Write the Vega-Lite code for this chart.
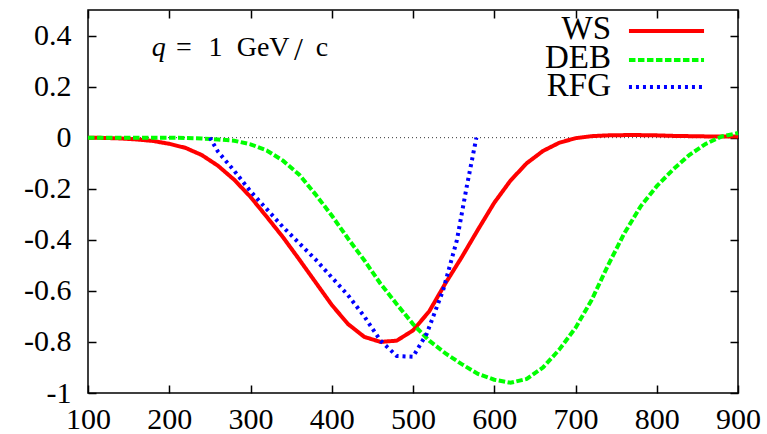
{
  "$schema": "https://vega.github.io/schema/vega-lite/v6.json",
  "width": 650,
  "height": 383,
  "autosize": "none",
  "padding": {"left": 88, "top": 10, "right": 29, "bottom": 41},
  "background": "white",
  "config": {
    "view": {"stroke": "black", "strokeWidth": 1.5},
    "font": "Liberation Serif",
    "axis": {"domain": false, "grid": false, "ticks": true, "labelFont": "Liberation Serif", "labelFontSize": 30, "labelColor": "black", "tickColor": "#000000", "tickWidth": 1.5, "tickSize": 8, "offset": -8, "zindex": 1, "labelFlush": false, "labelOverlap": false}
  },
  "datasets": {
    "curves": [
      {"x": 100, "y": 0, "series": "WS"},
      {"x": 120, "y": -0.001, "series": "WS"},
      {"x": 140, "y": -0.003, "series": "WS"},
      {"x": 160, "y": -0.007, "series": "WS"},
      {"x": 180, "y": -0.013, "series": "WS"},
      {"x": 200, "y": -0.024, "series": "WS"},
      {"x": 220, "y": -0.04, "series": "WS"},
      {"x": 240, "y": -0.068, "series": "WS"},
      {"x": 260, "y": -0.11, "series": "WS"},
      {"x": 280, "y": -0.165, "series": "WS"},
      {"x": 300, "y": -0.232, "series": "WS"},
      {"x": 320, "y": -0.31, "series": "WS"},
      {"x": 340, "y": -0.39, "series": "WS"},
      {"x": 360, "y": -0.477, "series": "WS"},
      {"x": 380, "y": -0.566, "series": "WS"},
      {"x": 400, "y": -0.655, "series": "WS"},
      {"x": 420, "y": -0.73, "series": "WS"},
      {"x": 440, "y": -0.78, "series": "WS"},
      {"x": 460, "y": -0.8, "series": "WS"},
      {"x": 480, "y": -0.795, "series": "WS"},
      {"x": 500, "y": -0.755, "series": "WS"},
      {"x": 520, "y": -0.68, "series": "WS"},
      {"x": 540, "y": -0.57, "series": "WS"},
      {"x": 560, "y": -0.468, "series": "WS"},
      {"x": 580, "y": -0.36, "series": "WS"},
      {"x": 600, "y": -0.255, "series": "WS"},
      {"x": 620, "y": -0.168, "series": "WS"},
      {"x": 640, "y": -0.1, "series": "WS"},
      {"x": 660, "y": -0.052, "series": "WS"},
      {"x": 680, "y": -0.02, "series": "WS"},
      {"x": 700, "y": -0.002, "series": "WS"},
      {"x": 720, "y": 0.006, "series": "WS"},
      {"x": 740, "y": 0.009, "series": "WS"},
      {"x": 760, "y": 0.01, "series": "WS"},
      {"x": 780, "y": 0.01, "series": "WS"},
      {"x": 800, "y": 0.009, "series": "WS"},
      {"x": 820, "y": 0.007, "series": "WS"},
      {"x": 840, "y": 0.006, "series": "WS"},
      {"x": 860, "y": 0.005, "series": "WS"},
      {"x": 880, "y": 0.005, "series": "WS"},
      {"x": 900, "y": 0.005, "series": "WS"},
      {"x": 100, "y": 0, "series": "DEB"},
      {"x": 150, "y": 0, "series": "DEB"},
      {"x": 200, "y": 0, "series": "DEB"},
      {"x": 220, "y": -0.001, "series": "DEB"},
      {"x": 240, "y": -0.003, "series": "DEB"},
      {"x": 260, "y": -0.007, "series": "DEB"},
      {"x": 280, "y": -0.012, "series": "DEB"},
      {"x": 300, "y": -0.026, "series": "DEB"},
      {"x": 320, "y": -0.05, "series": "DEB"},
      {"x": 340, "y": -0.09, "series": "DEB"},
      {"x": 360, "y": -0.145, "series": "DEB"},
      {"x": 380, "y": -0.222, "series": "DEB"},
      {"x": 400, "y": -0.305, "series": "DEB"},
      {"x": 420, "y": -0.395, "series": "DEB"},
      {"x": 440, "y": -0.48, "series": "DEB"},
      {"x": 460, "y": -0.572, "series": "DEB"},
      {"x": 480, "y": -0.652, "series": "DEB"},
      {"x": 500, "y": -0.73, "series": "DEB"},
      {"x": 520, "y": -0.795, "series": "DEB"},
      {"x": 540, "y": -0.845, "series": "DEB"},
      {"x": 560, "y": -0.887, "series": "DEB"},
      {"x": 580, "y": -0.925, "series": "DEB"},
      {"x": 600, "y": -0.948, "series": "DEB"},
      {"x": 620, "y": -0.96, "series": "DEB"},
      {"x": 640, "y": -0.945, "series": "DEB"},
      {"x": 660, "y": -0.9, "series": "DEB"},
      {"x": 680, "y": -0.83, "series": "DEB"},
      {"x": 700, "y": -0.745, "series": "DEB"},
      {"x": 720, "y": -0.635, "series": "DEB"},
      {"x": 740, "y": -0.5, "series": "DEB"},
      {"x": 760, "y": -0.375, "series": "DEB"},
      {"x": 780, "y": -0.27, "series": "DEB"},
      {"x": 800, "y": -0.19, "series": "DEB"},
      {"x": 820, "y": -0.125, "series": "DEB"},
      {"x": 840, "y": -0.068, "series": "DEB"},
      {"x": 860, "y": -0.025, "series": "DEB"},
      {"x": 880, "y": 0.005, "series": "DEB"},
      {"x": 900, "y": 0.018, "series": "DEB"},
      {"x": 250, "y": 0, "series": "RFG"},
      {"x": 260, "y": -0.055, "series": "RFG"},
      {"x": 280, "y": -0.13, "series": "RFG"},
      {"x": 300, "y": -0.21, "series": "RFG"},
      {"x": 340, "y": -0.35, "series": "RFG"},
      {"x": 380, "y": -0.477, "series": "RFG"},
      {"x": 420, "y": -0.617, "series": "RFG"},
      {"x": 440, "y": -0.7, "series": "RFG"},
      {"x": 460, "y": -0.795, "series": "RFG"},
      {"x": 480, "y": -0.855, "series": "RFG"},
      {"x": 500, "y": -0.858, "series": "RFG"},
      {"x": 517, "y": -0.767, "series": "RFG"},
      {"x": 537, "y": -0.598, "series": "RFG"},
      {"x": 554, "y": -0.402, "series": "RFG"},
      {"x": 566, "y": -0.194, "series": "RFG"},
      {"x": 578, "y": 0, "series": "RFG"}
    ]
  },
  "resolve": {"axis": {"x": "independent", "y": "independent"}},
  "layer": [
    {
      "data": {"values": [{"level": 0}]},
      "mark": {"type": "rule", "color": "#333333", "strokeWidth": 1, "strokeDash": [1, 3]},
      "encoding": {
        "x": {"datum": 100, "type": "quantitative", "scale": {"domain": [100, 900], "nice": false, "zero": false},
              "axis": {"orient": "top", "values": [100, 200, 300, 400, 500, 600, 700, 800, 900], "labels": false, "title": null}},
        "x2": {"datum": 900},
        "y": {"field": "level", "type": "quantitative", "scale": {"domain": [-1, 0.5], "nice": false, "zero": false},
              "axis": {"orient": "right", "values": [-1, -0.8, -0.6, -0.4, -0.2, 0, 0.2, 0.4], "labels": false, "title": null}}
      }
    },
    {
      "data": {"name": "curves"},
      "mark": {"type": "line", "strokeWidth": 4, "strokeCap": "butt"},
      "encoding": {
        "x": {"field": "x", "type": "quantitative", "scale": {"domain": [100, 900], "nice": false, "zero": false},
              "axis": {"orient": "bottom", "values": [100, 200, 300, 400, 500, 600, 700, 800, 900], "labelPadding": 11, "title": null}},
        "y": {"field": "y", "type": "quantitative", "scale": {"domain": [-1, 0.5], "nice": false, "zero": false},
              "axis": {"orient": "left", "values": [-1, -0.8, -0.6, -0.4, -0.2, 0, 0.2, 0.4], "labelPadding": 17, "labelExpr": "'' + datum.value", "title": null}},
        "color": {"field": "series", "type": "nominal",
                  "scale": {"domain": ["WS", "DEB", "RFG"], "range": ["#ff0000", "#00ff00", "#0000ff"]}, "legend": null},
        "strokeDash": {"field": "series", "type": "nominal",
                       "scale": {"domain": ["WS", "DEB", "RFG"], "range": [[1, 0], [6.5, 2.5], [3, 4]]}, "legend": null}
      }
    },
    {
      "data": {"values": [{"label": "WS"}]},
      "mark": {"type": "rule", "strokeWidth": 4},
      "encoding": {
        "x": {"datum": 765.8, "type": "quantitative", "axis": null},
        "x2": {"datum": 858.2},
        "y": {"datum": 0.4175, "type": "quantitative", "axis": null},
        "color": {"field": "label", "type": "nominal", "legend": null},
        "strokeDash": {"field": "label", "type": "nominal", "legend": null}
      }
    },
    {
      "data": {"values": [{"label": "DEB"}]},
      "mark": {"type": "rule", "strokeWidth": 4},
      "encoding": {
        "x": {"datum": 765.8, "type": "quantitative", "axis": null},
        "x2": {"datum": 858.2},
        "y": {"datum": 0.304, "type": "quantitative", "axis": null},
        "color": {"field": "label", "type": "nominal", "legend": null},
        "strokeDash": {"field": "label", "type": "nominal", "legend": null}
      }
    },
    {
      "data": {"values": [{"label": "RFG"}]},
      "mark": {"type": "rule", "strokeWidth": 4},
      "encoding": {
        "x": {"datum": 765.8, "type": "quantitative", "axis": null},
        "x2": {"datum": 858.2},
        "y": {"datum": 0.198, "type": "quantitative", "axis": null},
        "color": {"field": "label", "type": "nominal", "legend": null},
        "strokeDash": {"field": "label", "type": "nominal", "legend": null}
      }
    },
    {
      "data": {"values": [{"label": "WS"}]},
      "mark": {"type": "text", "font": "Liberation Serif", "fontSize": 33, "align": "right", "baseline": "alphabetic", "color": "black"},
      "encoding": {
        "text": {"field": "label"},
        "x": {"datum": 743.7, "type": "quantitative", "axis": null},
        "y": {"datum": 0.385, "type": "quantitative", "axis": null}
      }
    },
    {
      "data": {"values": [{"label": "DEB"}]},
      "mark": {"type": "text", "font": "Liberation Serif", "fontSize": 33, "align": "right", "baseline": "alphabetic", "color": "black"},
      "encoding": {
        "text": {"field": "label"},
        "x": {"datum": 743.7, "type": "quantitative", "axis": null},
        "y": {"datum": 0.272, "type": "quantitative", "axis": null}
      }
    },
    {
      "data": {"values": [{"label": "RFG"}]},
      "mark": {"type": "text", "font": "Liberation Serif", "fontSize": 33, "align": "right", "baseline": "alphabetic", "color": "black"},
      "encoding": {
        "text": {"field": "label"},
        "x": {"datum": 743.7, "type": "quantitative", "axis": null},
        "y": {"datum": 0.165, "type": "quantitative", "axis": null}
      }
    },
    {
      "data": {"values": [{"label": "q"}]},
      "mark": {"type": "text", "fontStyle": "italic", "font": "Liberation Serif", "fontSize": 28, "align": "left", "baseline": "alphabetic", "color": "black"},
      "encoding": {
        "text": {"field": "label"},
        "x": {"datum": 178.5, "type": "quantitative", "axis": null},
        "y": {"datum": 0.32, "type": "quantitative", "axis": null}
      }
    },
    {
      "data": {"values": [{"label": "="}]},
      "mark": {"type": "text", "font": "Liberation Serif", "fontSize": 28, "align": "center", "baseline": "alphabetic", "color": "black"},
      "encoding": {
        "text": {"field": "label"},
        "x": {"datum": 218, "type": "quantitative", "axis": null},
        "y": {"datum": 0.32, "type": "quantitative", "axis": null}
      }
    },
    {
      "data": {"values": [{"label": "1"}]},
      "mark": {"type": "text", "font": "Liberation Serif", "fontSize": 28, "align": "center", "baseline": "alphabetic", "color": "black"},
      "encoding": {
        "text": {"field": "label"},
        "x": {"datum": 257, "type": "quantitative", "axis": null},
        "y": {"datum": 0.32, "type": "quantitative", "axis": null}
      }
    },
    {
      "data": {"values": [{"label": "GeV"}]},
      "mark": {"type": "text", "font": "Liberation Serif", "fontSize": 28, "align": "left", "baseline": "alphabetic", "color": "black"},
      "encoding": {
        "text": {"field": "label"},
        "x": {"datum": 283, "type": "quantitative", "axis": null},
        "y": {"datum": 0.32, "type": "quantitative", "axis": null}
      }
    },
    {
      "data": {"values": [{"label": "/"}]},
      "mark": {"type": "text", "font": "Liberation Serif", "fontSize": 32, "align": "center", "baseline": "alphabetic", "color": "black"},
      "encoding": {
        "text": {"field": "label"},
        "x": {"datum": 359, "type": "quantitative", "axis": null},
        "y": {"datum": 0.305, "type": "quantitative", "axis": null}
      }
    },
    {
      "data": {"values": [{"label": "c"}]},
      "mark": {"type": "text", "font": "Liberation Serif", "fontSize": 28, "align": "center", "baseline": "alphabetic", "color": "black"},
      "encoding": {
        "text": {"field": "label"},
        "x": {"datum": 388, "type": "quantitative", "axis": null},
        "y": {"datum": 0.32, "type": "quantitative", "axis": null}
      }
    }
  ]
}
